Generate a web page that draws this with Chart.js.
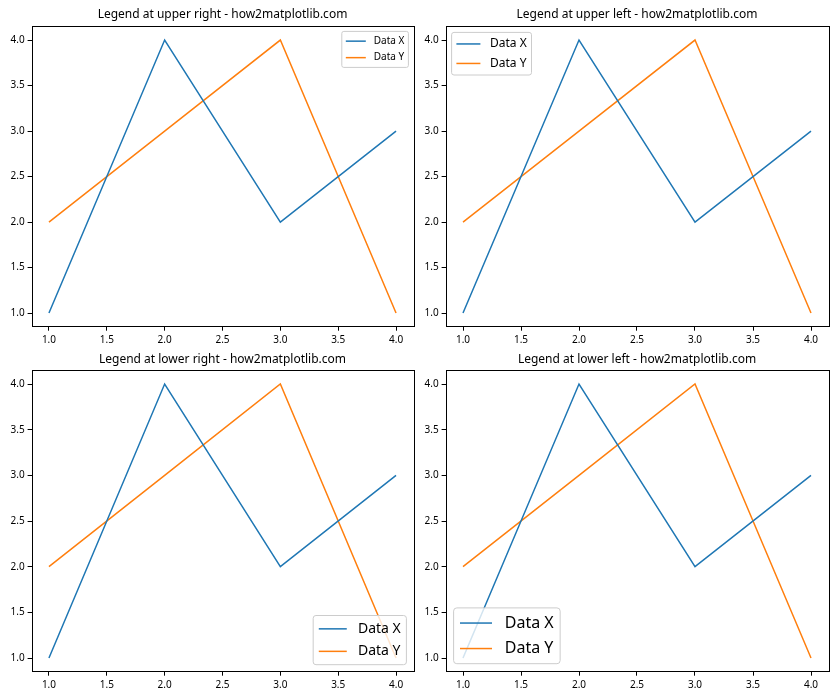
<!DOCTYPE html>
<html>
<head>
<meta charset="utf-8">
<script src="https://cdn.jsdelivr.net/npm/chart.js@4.4.0/dist/chart.umd.min.js"></script>
<style>
  body { margin: 0; background: #fff; }
  canvas { position: absolute; }
</style>
</head>
<body>
<canvas id="c0" width="420" height="345" style="left:0;top:0"></canvas>
<canvas id="c1" width="420" height="345" style="left:420px;top:0"></canvas>
<canvas id="c2" width="420" height="355" style="left:0;top:345px"></canvas>
<canvas id="c3" width="420" height="355" style="left:420px;top:345px"></canvas>
<script>
// data
const xValues = [1, 2, 3, 4];
const dataX = [1, 4, 2, 3];
const dataY = [2, 3, 4, 1];
const tickValues = [1.0, 1.5, 2.0, 2.5, 3.0, 3.5, 4.0];
const seriesLabels = ['Data X', 'Data Y'];
const titles = [
  'Legend at upper right - how2matplotlib.com',
  'Legend at upper left - how2matplotlib.com',
  'Legend at lower right - how2matplotlib.com',
  'Legend at lower left - how2matplotlib.com'
];
const legendLocs = ['upper right', 'upper left', 'lower right', 'lower left'];
const legendSizes = [10, 12, 14, 16];

const FONT = '"Noto Sans"';
const colors = ['#1f77b4', '#ff7f0e'];

// panel geometry (chart area placement inside each canvas)
const panels = [
  { yw: 31.6, padR: 6.6, top: 26.4, xh: 18.3 },
  { yw: 25.6, padR: 11.6, top: 26.4, xh: 18.3 },
  { yw: 31.6, padR: 6.6, top: 25.3, xh: 28.3 },
  { yw: 25.6, padR: 11.6, top: 25.3, xh: 28.3 }
];

// spines on all four sides like matplotlib
const framePlugin = {
  id: 'frame',
  afterDatasetsDraw(chart) {
    const { ctx, chartArea: a } = chart;
    ctx.save();
    ctx.strokeStyle = '#000';
    ctx.lineWidth = 1;
    ctx.strokeRect(Math.round(a.left) + 0.5, Math.round(a.top) + 0.5,
      Math.round(a.right - a.left), Math.round(a.bottom - a.top));
    ctx.restore();
  }
};

// title centred over the axes, not the canvas
const axesTitle = {
  id: 'axesTitle',
  afterDraw(chart, args, opts) {
    const { ctx, chartArea: a } = chart;
    ctx.save();
    ctx.font = '12px ' + FONT;
    ctx.fillStyle = '#000';
    ctx.textAlign = 'center';
    ctx.textBaseline = 'middle';
    ctx.fillText(opts.text, (a.left + a.right) / 2, 15);
    ctx.restore();
  }
};

// legend drawn inside the axes
const innerLegend = {
  id: 'innerLegend',
  afterDraw(chart, args, opts) {
    const { ctx, chartArea: a } = chart;
    const fs = opts.size;
    const items = chart.data.datasets;
    ctx.save();
    ctx.font = fs + 'px ' + FONT;
    const tw = Math.max(...items.map(d => ctx.measureText(d.label).width));
    const rowH = fs + 1.5, pad = 0.4 * fs, sp = 0.5 * fs, hl = 2 * fs, htp = 0.8 * fs, axp = 0.5 * fs;
    const w = pad * 2 + hl + htp + tw;
    const h = pad * 2 + rowH * items.length + sp * (items.length - 1);
    const x = opts.loc.includes('right') ? a.right - axp - w : a.left + axp;
    const y = opts.loc.includes('upper') ? a.top + axp : a.bottom - axp - h;
    ctx.beginPath();
    ctx.roundRect(x, y, w, h, 0.2 * fs);
    ctx.fillStyle = 'rgba(255,255,255,0.8)';
    ctx.fill();
    ctx.strokeStyle = '#cccccc';
    ctx.lineWidth = 1;
    ctx.stroke();
    items.forEach((d, i) => {
      const cy = y + pad + i * (rowH + sp) + rowH / 2;
      ctx.strokeStyle = d.borderColor;
      ctx.lineWidth = 1.5;
      ctx.beginPath();
      ctx.moveTo(x + pad, cy);
      ctx.lineTo(x + pad + hl, cy);
      ctx.stroke();
      ctx.fillStyle = '#000';
      ctx.textBaseline = 'middle';
      ctx.fillText(d.label, x + pad + hl + htp, cy);
    });
    ctx.restore();
  }
};

function pts(ys) {
  return xValues.map((x, i) => ({ x: x, y: ys[i] }));
}

function makeChart(i) {
  const p = panels[i];
  const fixTicks = scale => { scale.ticks = tickValues.map(v => ({ value: v })); };
  const tickOpts = {
    color: '#000',
    font: { family: FONT, size: 10 },
    padding: 3,
    callback: v => Number(v).toFixed(1)
  };
  const gridOpts = { drawOnChartArea: false, drawTicks: true, tickLength: 4, color: '#000' };
  new Chart(document.getElementById('c' + i), {
    type: 'line',
    data: {
      datasets: [
        { label: seriesLabels[0], data: pts(dataX), borderColor: colors[0], borderWidth: 1.5, pointRadius: 0, fill: false, tension: 0 },
        { label: seriesLabels[1], data: pts(dataY), borderColor: colors[1], borderWidth: 1.5, pointRadius: 0, fill: false, tension: 0 }
      ]
    },
    options: {
      responsive: false,
      animation: false,
      layout: { padding: { left: 0, right: p.padR, top: p.top, bottom: 0 } },
      scales: {
        x: {
          type: 'linear', min: 0.85, max: 4.15,
          afterBuildTicks: fixTicks,
          afterFit: s => { s.height = p.xh; },
          ticks: Object.assign({}, tickOpts, { maxRotation: 0 }),
          grid: gridOpts,
          border: { display: false }
        },
        y: {
          type: 'linear', min: 0.85, max: 4.15,
          afterBuildTicks: fixTicks,
          afterFit: s => { s.width = p.yw; },
          ticks: tickOpts,
          grid: gridOpts,
          border: { display: false }
        }
      },
      plugins: {
        legend: { display: false },
        tooltip: { enabled: false },
        title: { display: false },
        axesTitle: { text: titles[i] },
        innerLegend: { loc: legendLocs[i], size: legendSizes[i] }
      }
    },
    plugins: [framePlugin, axesTitle, innerLegend]
  });
}

[0, 1, 2, 3].forEach(makeChart);
</script>
</body>
</html>
